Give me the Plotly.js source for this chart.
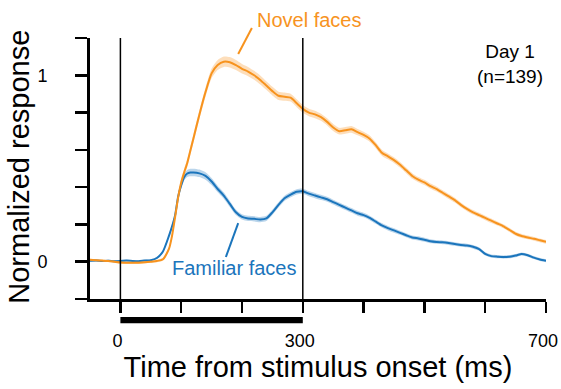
<!DOCTYPE html>
<html>
<head>
<meta charset="utf-8">
<script src="https://cdn.plot.ly/plotly-3.0.1.min.js"></script>
<style>
  html, body { margin: 0; padding: 0; background: #ffffff; }
  #chart { width: 561px; height: 389px; }
</style>
</head>
<body>
<div id="chart"></div>
<script>
// Time axis (ms from stimulus onset)
const timeMs = [
  -50, -40, -30, -20, -10, 0, 10, 20, 30, 40, 50, 60, 70, 80,
  85, 90, 95, 100, 105, 110, 115,
  120, 130, 140, 150, 160, 170, 180, 190, 200, 210, 220, 230, 240, 250,
  260, 270, 280, 290, 300, 310, 320, 330, 340, 350, 360, 370, 380, 390,
  400, 410, 420, 430, 440, 450, 460, 470, 480, 490, 500, 510, 520, 530,
  540, 550, 560, 570, 580, 590, 600, 610, 620, 630, 640, 650, 660, 670,
  680, 690, 700
];

// Population mean normalized response, novel faces
const novelMean = [
  0.010, 0.008, 0.006, 0.004, 0.000, -0.004, -0.006, -0.006, -0.005, -0.003, 0.000, 0.004, 0.013, 0.070,
  0.140, 0.240, 0.345, 0.425, 0.480, 0.530, 0.595,
  0.660, 0.790, 0.910, 1.010, 1.055, 1.073, 1.070, 1.055, 1.035, 1.020, 1.000, 0.975, 0.945, 0.915,
  0.890, 0.885, 0.880, 0.850, 0.820, 0.800, 0.790, 0.775, 0.750, 0.720, 0.700, 0.705, 0.710, 0.695,
  0.680, 0.660, 0.625, 0.585, 0.565, 0.545, 0.520, 0.490, 0.460, 0.440, 0.425, 0.405, 0.390, 0.370,
  0.350, 0.330, 0.305, 0.283, 0.265, 0.250, 0.235, 0.220, 0.205, 0.190, 0.170, 0.150, 0.138, 0.130,
  0.123, 0.115, 0.107
];

// Standard error of the mean, novel faces
const novelSem = [
  0.006, 0.006, 0.006, 0.006, 0.006, 0.006, 0.006, 0.006, 0.006, 0.006, 0.006, 0.007, 0.008, 0.010,
  0.012, 0.014, 0.016, 0.018, 0.020, 0.021, 0.022,
  0.023, 0.024, 0.025, 0.026, 0.027, 0.028, 0.028, 0.027, 0.026, 0.025, 0.024, 0.024, 0.023, 0.023,
  0.022, 0.022, 0.021, 0.021, 0.020, 0.020, 0.020, 0.019, 0.019, 0.019, 0.018, 0.018, 0.018, 0.017,
  0.017, 0.017, 0.016, 0.016, 0.016, 0.015, 0.015, 0.015, 0.015, 0.014, 0.014, 0.014, 0.014, 0.013,
  0.013, 0.013, 0.013, 0.012, 0.012, 0.012, 0.012, 0.012, 0.011, 0.011, 0.011, 0.011, 0.011, 0.010,
  0.010, 0.010, 0.010
];

// Population mean normalized response, familiar faces
const familiarMean = [
  0.005, 0.006, 0.004, 0.005, 0.003, 0.004, 0.006, 0.004, 0.003, 0.006, 0.008, 0.020, 0.055, 0.140,
  0.190, 0.250, 0.350, 0.410, 0.455, 0.473, 0.478,
  0.479, 0.474, 0.460, 0.430, 0.390, 0.355, 0.310, 0.265, 0.240, 0.232, 0.230, 0.226, 0.232, 0.265,
  0.305, 0.340, 0.360, 0.375, 0.378, 0.365, 0.355, 0.345, 0.335, 0.320, 0.305, 0.290, 0.275, 0.260,
  0.250, 0.235, 0.215, 0.195, 0.180, 0.168, 0.155, 0.142, 0.130, 0.125, 0.118, 0.110, 0.106, 0.104,
  0.100, 0.095, 0.090, 0.087, 0.080, 0.068, 0.042, 0.030, 0.027, 0.025, 0.027, 0.033, 0.042, 0.035,
  0.022, 0.012, 0.005
];

// Standard error of the mean, familiar faces
const familiarSem = [
  0.005, 0.005, 0.005, 0.005, 0.005, 0.005, 0.005, 0.005, 0.005, 0.005, 0.005, 0.006, 0.007, 0.009,
  0.011, 0.013, 0.015, 0.017, 0.018, 0.019, 0.020,
  0.020, 0.020, 0.020, 0.019, 0.018, 0.017, 0.016, 0.015, 0.014, 0.014, 0.014, 0.014, 0.014, 0.014,
  0.014, 0.014, 0.014, 0.014, 0.014, 0.014, 0.014, 0.014, 0.013, 0.013, 0.013, 0.013, 0.013, 0.013,
  0.012, 0.012, 0.012, 0.012, 0.012, 0.012, 0.011, 0.011, 0.011, 0.011, 0.011, 0.011, 0.010, 0.010,
  0.010, 0.010, 0.010, 0.010, 0.010, 0.009, 0.009, 0.009, 0.009, 0.009, 0.009, 0.009, 0.008, 0.008,
  0.008, 0.008, 0.008
];

// Axis ticks and labels
const xTickVals = [0, 100, 200, 300, 400, 500, 600, 700];
const xTickText = ['0', '', '', '300', '', '', '', '700'];
const yTickVals = [-0.2, 0, 0.2, 0.4, 0.6, 0.8, 1.0, 1.2];
const yTickText = ['', '0', '', '', '', '', '1', ''];

// Stimulus presentation window (ms)
const stimulusWindow = [0, 300];

const novelColor = '#f7931e';
const familiarColor = '#1b75bc';
const font = 'Liberation Sans, Arial, Helvetica, sans-serif';

function band(mean, sem, color, fill) {
  const lower = mean.map((m, i) => m - sem[i]);
  const upper = mean.map((m, i) => m + sem[i]);
  return [
    { x: timeMs, y: lower, mode: 'lines', line: { width: 0, color: color, shape: 'spline', smoothing: 0.6 },
      hoverinfo: 'skip', showlegend: false },
    { x: timeMs, y: upper, mode: 'lines', line: { width: 0, color: color, shape: 'spline', smoothing: 0.6 },
      fill: 'tonexty', fillcolor: fill, hoverinfo: 'skip', showlegend: false },
    { x: timeMs, y: mean, mode: 'lines', line: { width: 2, color: color, shape: 'spline', smoothing: 0.6 },
      showlegend: false }
  ];
}

const traces = [
  ...band(familiarMean, familiarSem, familiarColor, 'rgba(27,117,188,0.30)'),
  ...band(novelMean, novelSem, novelColor, 'rgba(247,147,30,0.30)')
];

const layout = {
  width: 561,
  height: 389,
  margin: { l: 90, r: 15, t: 38, b: 90 },
  paper_bgcolor: '#ffffff',
  plot_bgcolor: '#ffffff',
  font: { family: font, color: '#000000' },
  showlegend: false,
  xaxis: {
    range: [-50, 700],
    showgrid: false,
    zeroline: false,
    showline: true,
    linewidth: 3,
    linecolor: '#000000',
    ticks: 'outside',
    ticklen: 11,
    tickwidth: 2.5,
    tickcolor: '#000000',
    tickvals: xTickVals,
    ticktext: xTickText,
    ticklabelstandoff: 12,
    ticklabelshift: -3,
    ticklabeloverflow: 'allow',
    tickfont: { size: 18, family: font, color: '#000000' },
    title: { text: 'Time from stimulus onset (ms)', font: { size: 29, family: font, color: '#000000' }, standoff: 5 }
  },
  yaxis: {
    range: [-0.2, 1.2],
    showgrid: false,
    zeroline: false,
    showline: true,
    linewidth: 3,
    linecolor: '#000000',
    ticks: 'outside',
    ticklen: 12,
    tickwidth: 2.5,
    tickcolor: '#000000',
    tickvals: yTickVals,
    ticktext: yTickText,
    ticklabelstandoff: 24,
    tickfont: { size: 18, family: font, color: '#000000' }
  },
  shapes: [
    // stimulus onset / offset markers
    { type: 'line', xref: 'x', yref: 'paper', x0: stimulusWindow[0], x1: stimulusWindow[0], y0: 0, y1: 1,
      line: { color: '#000000', width: 1.5 } },
    { type: 'line', xref: 'x', yref: 'paper', x0: stimulusWindow[1], x1: stimulusWindow[1], y0: 0, y1: 1,
      line: { color: '#000000', width: 1.5 } },
    // stimulus-on bar under the axis
    { type: 'rect', xref: 'x', yref: 'paper', x0: stimulusWindow[0], x1: stimulusWindow[1], y0: -0.069, y1: -0.093,
      fillcolor: '#000000', line: { width: 0 } },
    // label leader lines
    { type: 'line', xref: 'paper', yref: 'paper', x0: 0.355, y0: 1.038, x1: 0.325, y1: 0.939,
      line: { color: novelColor, width: 2 } },
    { type: 'line', xref: 'paper', yref: 'paper', x0: 0.298, y0: 0.161, x1: 0.325, y1: 0.291,
      line: { color: familiarColor, width: 2 } }
  ],
  annotations: [
    // vertical axis title
    { text: 'Normalized response', xref: 'paper', yref: 'paper', x: -0.155, y: 0.508, textangle: -90,
      xanchor: 'center', yanchor: 'middle', showarrow: false,
      font: { size: 29, family: font, color: '#000000' } },
    { text: 'Novel faces', xref: 'paper', yref: 'paper', x: 0.362, y: 1.069, xanchor: 'left', yanchor: 'middle',
      showarrow: false, font: { size: 20, family: font, color: novelColor } },
    { text: 'Familiar faces', xref: 'paper', yref: 'paper', x: 0.176, y: 0.119, xanchor: 'left', yanchor: 'middle',
      showarrow: false, font: { size: 20, family: font, color: familiarColor } },
    { text: 'Day 1<br>(n=139)', xref: 'paper', yref: 'paper', x: 0.921, y: 0.90, xanchor: 'center', yanchor: 'middle',
      showarrow: false, align: 'center', font: { size: 19, family: font, color: '#000000' } }
  ]
};

Plotly.newPlot('chart', traces, layout, { displayModeBar: false, staticPlot: true });
</script>
</body>
</html>
